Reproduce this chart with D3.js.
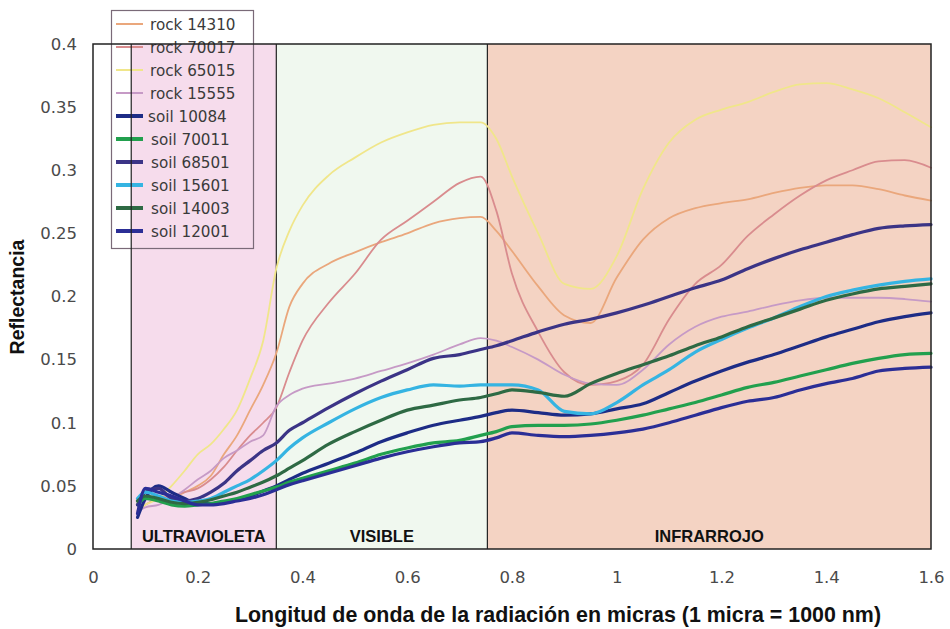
<!DOCTYPE html>
<html><head><meta charset="utf-8">
<script src="https://cdn.jsdelivr.net/npm/d3@7"></script>
<style>body{margin:0;background:#fff}svg{display:block}</style>
</head><body><svg id="c" width="950" height="629"></svg>
<script>
const wavelengths = [0.085,0.1,0.125,0.15,0.175,0.2,0.225,0.25,0.275,0.3,0.325,0.35,0.375,0.4,0.45,0.5,0.55,0.6,0.65,0.7,0.74,0.77,0.8,0.85,0.9,0.95,1.0,1.05,1.1,1.15,1.2,1.25,1.3,1.35,1.4,1.45,1.5,1.55,1.6];

const rock14310 = [0.035,0.04,0.038,0.04,0.045,0.05,0.058,0.075,0.09,0.11,0.13,0.155,0.192,0.21,0.226,0.235,0.243,0.25,0.258,0.262,0.263,0.252,0.236,0.208,0.185,0.179,0.215,0.245,0.262,0.27,0.274,0.277,0.282,0.286,0.288,0.288,0.285,0.28,0.276];
const rock70017 = [0.03,0.035,0.04,0.042,0.045,0.048,0.055,0.065,0.078,0.09,0.1,0.112,0.14,0.165,0.195,0.218,0.245,0.26,0.275,0.29,0.295,0.268,0.218,0.172,0.14,0.13,0.133,0.146,0.182,0.21,0.225,0.248,0.265,0.28,0.292,0.3,0.307,0.308,0.302];
const rock65015 = [0.03,0.035,0.04,0.05,0.062,0.075,0.083,0.095,0.11,0.135,0.165,0.222,0.252,0.272,0.296,0.31,0.322,0.33,0.336,0.338,0.338,0.325,0.295,0.25,0.21,0.206,0.232,0.285,0.322,0.34,0.348,0.354,0.362,0.368,0.369,0.364,0.357,0.346,0.334];
const rock15555 = [0.03,0.033,0.035,0.04,0.047,0.055,0.062,0.072,0.078,0.085,0.09,0.113,0.122,0.127,0.131,0.135,0.141,0.147,0.154,0.162,0.167,0.165,0.16,0.15,0.138,0.131,0.13,0.142,0.162,0.176,0.184,0.188,0.193,0.197,0.199,0.199,0.199,0.198,0.196];
const soil10084 = [0.025,0.04,0.05,0.045,0.04,0.036,0.036,0.037,0.039,0.042,0.046,0.05,0.055,0.06,0.068,0.076,0.085,0.092,0.098,0.102,0.105,0.108,0.11,0.108,0.106,0.107,0.111,0.115,0.124,0.133,0.141,0.148,0.154,0.161,0.168,0.174,0.18,0.184,0.187];
const soil70011 = [0.035,0.04,0.038,0.035,0.034,0.035,0.036,0.038,0.04,0.043,0.046,0.049,0.053,0.056,0.062,0.068,0.075,0.08,0.084,0.086,0.09,0.093,0.097,0.098,0.098,0.099,0.102,0.106,0.111,0.116,0.122,0.128,0.132,0.137,0.142,0.147,0.151,0.154,0.155];
const soil68501 = [0.035,0.045,0.048,0.04,0.038,0.04,0.045,0.052,0.062,0.07,0.078,0.084,0.094,0.1,0.112,0.123,0.133,0.142,0.151,0.154,0.158,0.161,0.165,0.172,0.178,0.182,0.187,0.193,0.2,0.207,0.213,0.222,0.23,0.237,0.243,0.249,0.254,0.256,0.257];
const soil15601 = [0.04,0.045,0.042,0.038,0.037,0.038,0.04,0.045,0.05,0.055,0.062,0.07,0.08,0.088,0.1,0.111,0.12,0.126,0.13,0.129,0.13,0.13,0.13,0.126,0.109,0.107,0.116,0.13,0.142,0.156,0.166,0.175,0.183,0.192,0.2,0.205,0.209,0.212,0.214];
const soil14003 = [0.038,0.042,0.04,0.037,0.036,0.037,0.039,0.042,0.045,0.049,0.053,0.058,0.064,0.07,0.083,0.093,0.102,0.11,0.114,0.118,0.12,0.123,0.126,0.124,0.121,0.131,0.139,0.146,0.153,0.161,0.168,0.176,0.183,0.19,0.197,0.202,0.206,0.208,0.21];
const soil12001 = [0.028,0.048,0.045,0.042,0.038,0.035,0.035,0.036,0.038,0.04,0.043,0.047,0.051,0.054,0.06,0.066,0.072,0.077,0.081,0.084,0.085,0.088,0.092,0.09,0.089,0.09,0.092,0.095,0.1,0.106,0.112,0.117,0.12,0.126,0.131,0.135,0.141,0.143,0.144];

const seriesNames = ["rock 14310","rock 70017","rock 65015","rock 15555","soil 10084","soil 70011","soil 68501","soil 15601","soil 14003","soil 12001"];
const seriesValues = [rock14310,rock70017,rock65015,rock15555,soil10084,soil70011,soil68501,soil15601,soil14003,soil12001];
const seriesColors = ["#eaa77c","#d98c8e","#f0e68a","#c69ac6","#1d2c86","#22a04e","#3b3486","#35b4e2","#2e6a44","#2b2e96"];

const regionNames = ["ULTRAVIOLETA","VISIBLE","INFRARROJO"];
const regionBounds = [[0.073,0.35],[0.35,0.753],[0.753,1.6]];
const regionColors = ["#f6dcec","#f0f8ef","#f4d3c3"];

const xTicks = [0,0.2,0.4,0.6,0.8,1,1.2,1.4,1.6];
const yTicks = [0,0.05,0.1,0.15,0.2,0.25,0.3,0.35,0.4];

const svg = d3.select("#c");
const L = 93, R = 931, T = 44, B = 549;
const x = d3.scaleLinear().domain([0,1.6]).range([L,R]);
const y = d3.scaleLinear().domain([0,0.4]).range([B,T]);

// region backgrounds
svg.selectAll("rect.reg").data(regionBounds).join("rect")
  .attr("x", d=>x(d[0])).attr("y", T).attr("width", d=>x(d[1])-x(d[0])).attr("height", B-T)
  .attr("fill", (d,i)=>regionColors[i]);

// legend
const lg = svg.append("g");
lg.append("rect").attr("x",111.5).attr("y",10.5).attr("width",142).attr("height",238)
  .attr("fill","none").attr("stroke","#7a6a78").attr("stroke-width",1.2);
seriesNames.forEach((n,i)=>{
  const yy = 24 + i*23;
  lg.append("line").attr("x1",116).attr("x2",143).attr("y1",yy).attr("y2",yy)
    .attr("stroke",seriesColors[i]).attr("stroke-width", i<4?2:4);
  lg.append("text").attr("x", i<4?150:(i===4?148:151)).attr("y",yy+5.5).text(n)
    .attr("font-family","DejaVu Sans, Verdana, sans-serif").attr("font-size",15.2).attr("fill","#3a3a3a");
});

// region divider lines
svg.selectAll("line.div").data(regionBounds).join("line")
  .attr("x1", d=>x(d[0])).attr("x2", d=>x(d[0])).attr("y1", T).attr("y2", B)
  .attr("stroke","#222").attr("stroke-width",1.2);

// region labels
svg.selectAll("text.reg").data(regionBounds).join("text")
  .attr("x", d=>(x(d[0])+x(d[1]))/2).attr("y", 542).attr("text-anchor","middle")
  .attr("font-family","Liberation Sans, Arial, sans-serif").attr("font-weight","bold").attr("font-size",16.5)
  .attr("fill","#111").text((d,i)=>regionNames[i]);

// curves
const line = d3.line().x((d,i)=>x(wavelengths[i])).y(d=>y(d)).curve(d3.curveMonotoneX);
seriesValues.forEach((vals,i)=>{
  svg.append("path").attr("d", line(vals)).attr("fill","none")
    .attr("stroke", seriesColors[i]).attr("stroke-width", i<4?1.8:3.2)
    .attr("stroke-linejoin","round").attr("stroke-linecap","round");
});

// frame
svg.append("rect").attr("x",L).attr("y",T).attr("width",R-L).attr("height",B-T)
  .attr("fill","none").attr("stroke","#222").attr("stroke-width",1.5);

// axes
const xAxis = svg.append("g").attr("transform",`translate(0,${B})`)
  .call(d3.axisBottom(x).tickValues(xTicks).tickSize(0).tickPadding(22).tickFormat(d3.format("")));
const yAxis = svg.append("g").attr("transform",`translate(${L},0)`)
  .call(d3.axisLeft(y).tickValues(yTicks).tickSize(0).tickPadding(16).tickFormat(d3.format("")));
[xAxis,yAxis].forEach(a=>{
  a.select(".domain").remove();
  a.selectAll("text").attr("font-family","DejaVu Sans, Verdana, sans-serif").attr("font-size",16.5).attr("fill","#4a4a4a");
});

svg.append("text").attr("transform","translate(24,297) rotate(-90)").attr("text-anchor","middle")
  .attr("font-family","Liberation Sans, Arial, sans-serif").attr("font-weight","bold").attr("font-size",19.5)
  .attr("fill","#111").text("Reflectancia");
svg.append("text").attr("x",558).attr("y",622).attr("text-anchor","middle")
  .attr("font-family","Liberation Sans, Arial, sans-serif").attr("font-weight","bold").attr("font-size",21.4)
  .attr("fill","#111").text("Longitud de onda de la radiación en micras (1 micra = 1000 nm)");
</script></body></html>
